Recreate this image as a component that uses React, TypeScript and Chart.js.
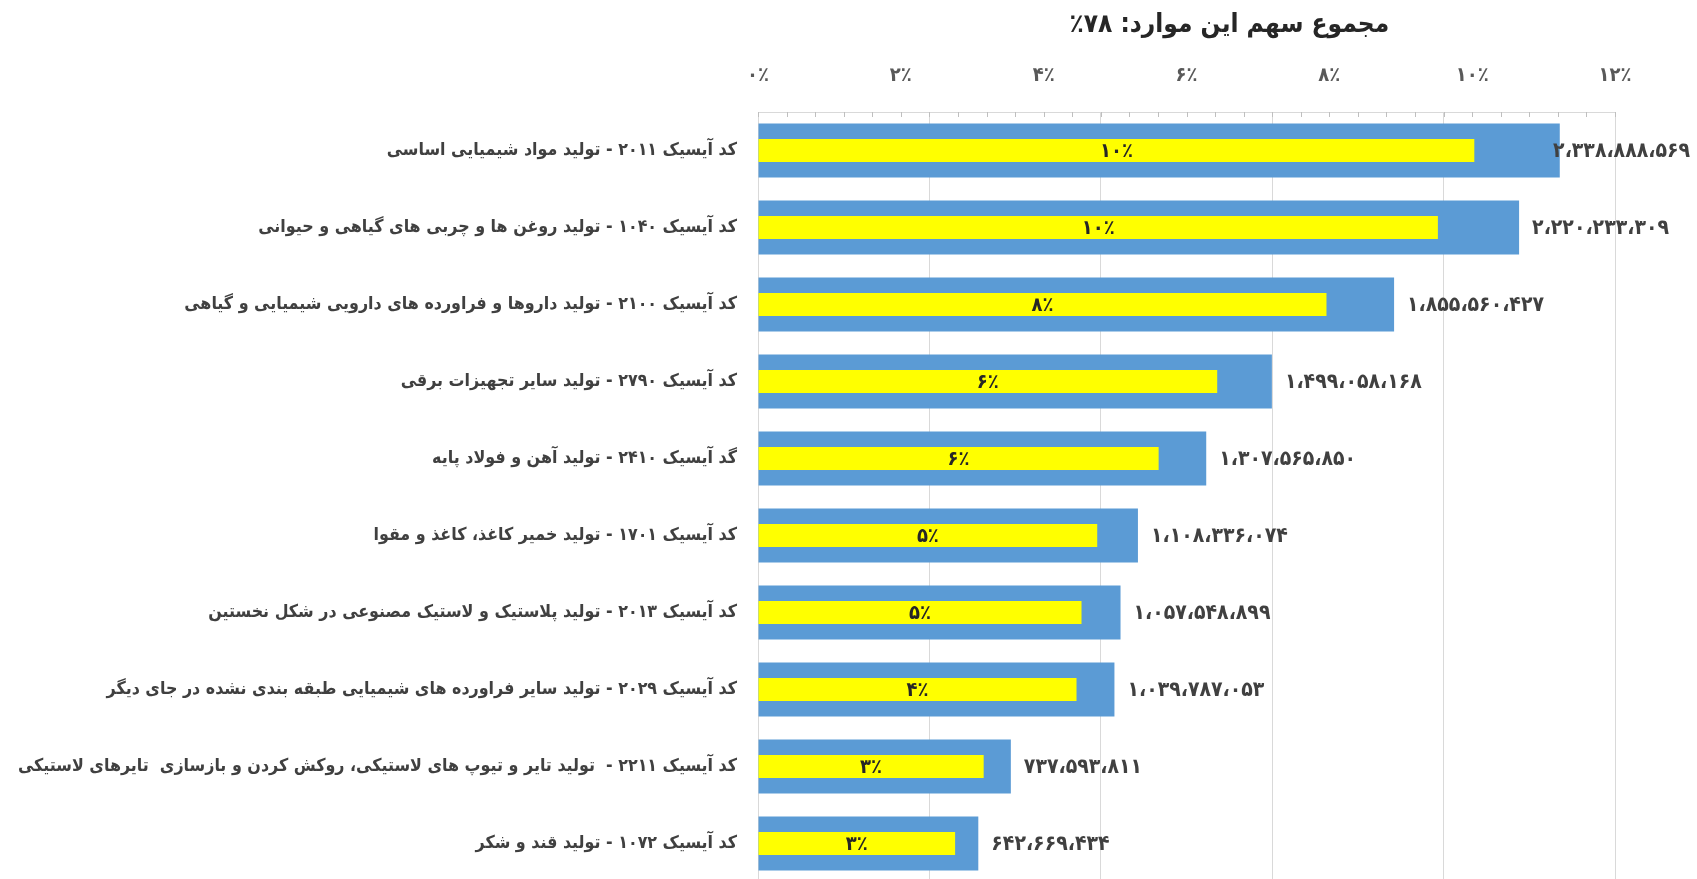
import React, { useEffect, useRef } from "react";
import { Chart, registerables } from "chart.js";

Chart.register(...registerables);

const categories: string[] = [
  "کد آیسیک ۲۰۱۱ - تولید مواد شیمیایی اساسی",
  "کد آیسیک ۱۰۴۰ - تولید روغن ها و چربی های گیاهی و حیوانی",
  "کد آیسیک ۲۱۰۰ - تولید داروها و فراورده های دارویی شیمیایی و گیاهی",
  "کد آیسیک ۲۷۹۰ - تولید سایر تجهیزات برقی",
  "گد آیسیک ۲۴۱۰ - تولید آهن و فولاد پایه",
  "کد آیسیک ۱۷۰۱ - تولید خمیر کاغذ، کاغذ و مقوا",
  "کد آیسیک ۲۰۱۳ - تولید پلاستیک و لاستیک مصنوعی در شکل نخستین",
  "کد آیسیک ۲۰۲۹ - تولید سایر فراورده های شیمیایی طبقه بندی نشده در جای دیگر",
  "کد آیسیک ۲۲۱۱ -  تولید تایر و تیوپ های لاستیکی، روکش کردن و بازسازی  تایرهای لاستیکی",
  "کد آیسیک ۱۰۷۲ - تولید قند و شکر",
];

// blue bars: amount (bottom axis, labels hidden)
const amounts: number[] = [
  2338888569, 2220233309, 1855560427, 1499058168, 1307565850,
  1108336074, 1057548899, 1039787053, 737593811, 642669434,
];

// yellow bars: share (top axis, 0%..12%)
const shares: number[] = [
  0.1003, 0.0952, 0.0796, 0.0643, 0.0561,
  0.0475, 0.0453, 0.0446, 0.0316, 0.0276,
];

const shareLabels: string[] = ["۱۰٪", "۱۰٪", "۸٪", "۶٪", "۶٪", "۵٪", "۵٪", "۴٪", "۳٪", "۳٪"];

const shareTickLabels: string[] = ["۰٪", "۲٪", "۴٪", "۶٪", "۸٪", "۱۰٪", "۱۲٪"];

const titleText = "مجموع سهم این موارد: ۷۸٪";

const FONT = '"DejaVu Sans Condensed", "DejaVu Sans", sans-serif';

const faDigits = "۰۱۲۳۴۵۶۷۸۹";
function toFa(n: number): string {
  const s = Math.round(n).toString().replace(/\B(?=(\d{3})+(?!\d))/g, "،");
  return s.replace(/\d/g, (d) => faDigits[Number(d)]);
}

const labelPlugin = {
  id: "customLabels",
  afterDatasetsDraw(chart: any) {
    const ctx: CanvasRenderingContext2D = chart.ctx;
    const area = chart.chartArea;
    ctx.save();

    // inward minor ticks on top axis
    const top = chart.scales.x2;
    ctx.strokeStyle = "#bfbfbf";
    ctx.lineWidth = 1;
    for (let i = 0; i <= 30; i++) {
      const px = Math.round(top.getPixelForValue(i * 0.004)) + 0.5;
      ctx.beginPath();
      ctx.moveTo(px, area.top);
      ctx.lineTo(px, area.top + 5);
      ctx.stroke();
    }

    // share labels centered in yellow bars
    const yMeta = chart.getDatasetMeta(0);
    ctx.font = `bold 20px ${FONT}`;
    ctx.fillStyle = "#262626";
    ctx.textAlign = "center";
    ctx.textBaseline = "middle";
    yMeta.data.forEach((el: any, i: number) => {
      const cx = (el.x + el.base) / 2;
      ctx.fillText(shareLabels[i], cx, el.y + 1);
    });

    // amount labels right of blue bars
    const bMeta = chart.getDatasetMeta(1);
    ctx.font = `bold 21px ${FONT}`;
    ctx.fillStyle = "#404040";
    ctx.textAlign = "left";
    bMeta.data.forEach((el: any, i: number) => {
      const txt = toFa(amounts[i]);
      const w = ctx.measureText(txt).width;
      let x = el.x + 13;
      if (x + w > chart.width - 7) x = chart.width - 7 - w;
      ctx.fillText(txt, x, el.y + 1);
    });

    // title
    ctx.font = `bold 26px ${FONT}`;
    ctx.fillStyle = "#262626";
    ctx.textAlign = "center";
    ctx.fillText(titleText, area.left + 0.55 * (area.right - area.left), 25);

    ctx.restore();
  },
};

export default function App() {
  const ref = useRef<HTMLCanvasElement | null>(null);

  useEffect(() => {
    if (!ref.current) return;
    const chart = new Chart(ref.current, {
      type: "bar",
      data: {
        labels: categories,
        datasets: [
          {
            label: "سهم",
            data: shares,
            xAxisID: "x2",
            backgroundColor: "#FFFF00",
            barPercentage: 0.3,
            categoryPercentage: 1,
            grouped: false,
            order: 0,
          } as any,
          {
            label: "مبلغ",
            data: amounts,
            xAxisID: "x",
            backgroundColor: "#5B9BD5",
            barPercentage: 0.7,
            categoryPercentage: 1,
            grouped: false,
            order: 1,
          } as any,
        ],
      },
      options: {
        indexAxis: "y",
        animation: false,
        responsive: false,
        devicePixelRatio: 1,
        layout: { padding: { top: 0, right: 82, bottom: 0, left: 0 } },
        plugins: {
          legend: { display: false },
          tooltip: { enabled: false },
          title: { display: false },
        },
        scales: {
          x: {
            type: "linear",
            position: "bottom",
            min: 0,
            max: 2500000000,
            ticks: { display: false, stepSize: 500000000 },
            grid: { color: "#d9d9d9", drawTicks: false, lineWidth: 1 },
            border: { display: false },
            afterFit: (s: any) => {
              s.height = 0;
              s.paddingLeft = 0;
              s.paddingRight = 0;
            },
          },
          x2: {
            type: "linear",
            position: "top",
            min: 0,
            max: 0.12,
            ticks: {
              stepSize: 0.02,
              autoSkip: false,
              maxRotation: 0,
              padding: 24,
              color: "#595959",
              font: { family: FONT, size: 20, weight: "bold" },
              callback: (v: any) => shareTickLabels[Math.round(Number(v) / 0.02)] ?? "",
            },
            grid: { display: true, drawOnChartArea: false, drawTicks: false },
            border: { display: true, color: "#d9d9d9" },
            afterFit: (s: any) => {
              s.height = 112;
              s.paddingLeft = 0;
              s.paddingRight = 0;
            },
          },
          y: {
            type: "category",
            position: "left",
            grid: { display: false, drawTicks: false },
            border: { display: false },
            ticks: {
              padding: 21,
              color: "#404040",
              autoSkip: false,
              font: { family: FONT, size: 17.7, weight: "bold" },
            },
            afterFit: (s: any) => {
              s.width = 758;
              s.paddingTop = 0;
              s.paddingBottom = 0;
            },
          },
        },
      } as any,
      plugins: [labelPlugin],
    });
    return () => chart.destroy();
  }, []);

  return (
    <div
      style={{
        position: "fixed",
        left: 0,
        top: 0,
        width: 1697,
        height: 879,
        overflow: "hidden",
        background: "#ffffff",
      }}
    >
      <canvas ref={ref} width={1697} height={882} dir="rtl" style={{ display: "block" }} />
    </div>
  );
}
